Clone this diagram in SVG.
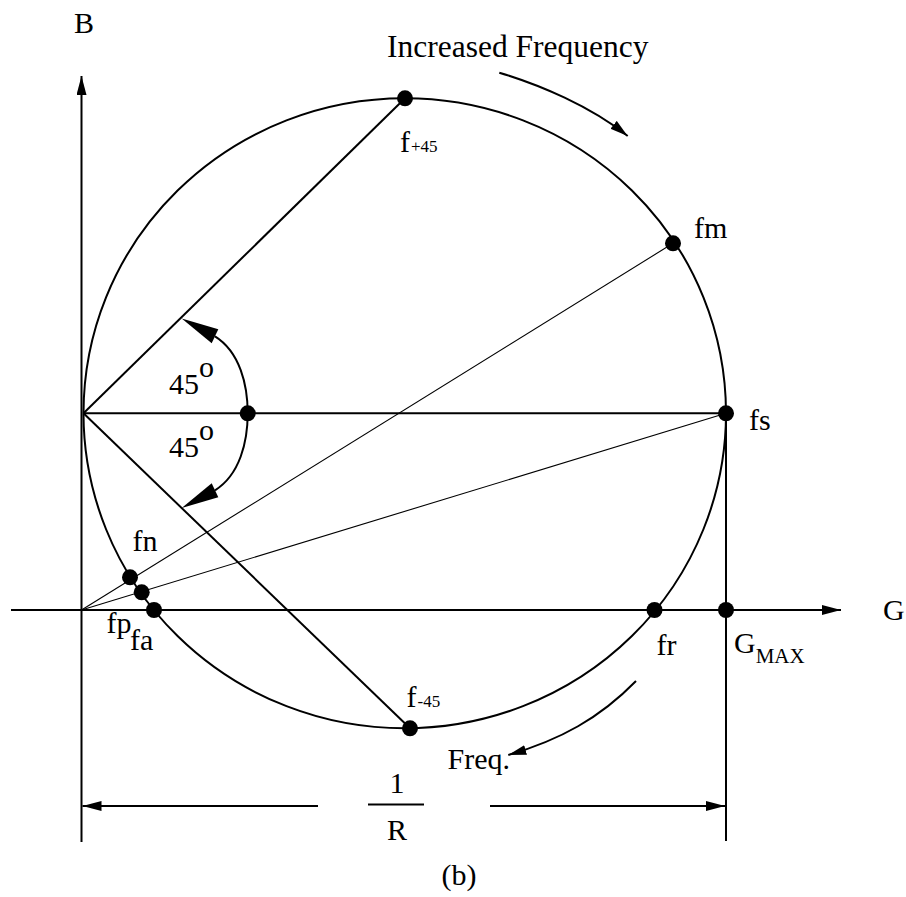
<svg xmlns="http://www.w3.org/2000/svg" width="906" height="897" viewBox="0 0 906 897">
<style>
.t{font-family:'Liberation Serif','DejaVu Serif',serif;font-size:30px;fill:#000}
.big{font-size:31.5px}
.sub{font-size:17px}
.thick{stroke:#000;stroke-width:2;fill:none}
.thin{stroke:#000;stroke-width:1.1;fill:none}
.dot{fill:#000}
.ah{fill:#000}
</style>
<defs>
<marker id="arr" markerUnits="userSpaceOnUse" markerWidth="20" markerHeight="12" refX="19" refY="5" orient="auto">
<path d="M0,0 L19,5 L0,10 Z" fill="#000"/>
</marker>
<marker id="arrs" markerUnits="userSpaceOnUse" markerWidth="20" markerHeight="12" refX="18" refY="5" orient="auto">
<path d="M0,0 L18,5 L0,10 Z" fill="#000"/>
</marker>
</defs>
<rect width="906" height="897" fill="#fff"/>

<g id="axes">
<line class="thick" x1="81.5" y1="842" x2="81.5" y2="76" marker-end="url(#arr)"/>
<line class="thick" x1="11" y1="610" x2="841" y2="610" marker-end="url(#arr)"/>
<text class="t" font-family="Liberation Serif, serif" x="74" y="33">B</text>
<text class="t" font-family="Liberation Serif, serif" x="883" y="620">G</text>
</g>

<g id="circle">
<ellipse class="thick" cx="404.75" cy="413.3" rx="321.25" ry="315"/>
</g>

<g id="connectors">
<line class="thick" x1="83.5" y1="413.3" x2="726" y2="413.3"/>
<line class="thick" x1="83.5" y1="413.3" x2="405" y2="98.3"/>
<line class="thick" x1="83.5" y1="413.3" x2="410" y2="728.3"/>
<line class="thin" x1="81.5" y1="610" x2="673" y2="243.3"/>
<line class="thin" x1="81.5" y1="610" x2="726" y2="413.3"/>
<line class="thick" x1="726" y1="413.3" x2="726" y2="841"/>
<path class="thick" d="M247.7 413.3 C247.7 385 240 352 215 336.3"/>
<polygon class="ah" points="181.7,318.5 218.3,329.3 211.7,343.3"/>
<path class="thick" d="M247.7 413.3 C247.7 441.6 240 474.6 215 490.3"/>
<polygon class="ah" points="181.7,508.1 218.3,497.3 211.7,483.3"/>
<path class="thick" d="M499.3 72.7 C540 85 590 106 627.7 136" marker-end="url(#arrs)"/>
<path class="thick" d="M636 681 C600 718 560 740 508.3 755" marker-end="url(#arrs)"/>
<line class="thick" x1="318" y1="806" x2="82.5" y2="806" marker-end="url(#arr)"/>
<line class="thick" x1="490" y1="806" x2="725" y2="806" marker-end="url(#arr)"/>
<line class="thick" x1="368" y1="804.5" x2="424" y2="804.5"/>
</g>

<g id="f_plus45"><circle class="dot" cx="405" cy="98.3" r="8"/><text class="t" font-family="Liberation Serif, serif" x="400" y="152">f<tspan class="sub" dx="1">+45</tspan></text></g>
<g id="f_minus45"><circle class="dot" cx="410" cy="728.3" r="8"/><text class="t" font-family="Liberation Serif, serif" x="406.5" y="707">f<tspan class="sub" dx="1">-45</tspan></text></g>
<g id="fm"><circle class="dot" cx="673" cy="243.3" r="8"/><text class="t" font-family="Liberation Serif, serif" x="694" y="238">fm</text></g>
<g id="fs"><circle class="dot" cx="726" cy="413.3" r="8"/><text class="t" font-family="Liberation Serif, serif" x="749" y="430">fs</text></g>
<g id="center"><circle class="dot" cx="247.7" cy="413.3" r="8"/></g>
<g id="fn"><circle class="dot" cx="130" cy="577.3" r="8"/><text class="t" font-family="Liberation Serif, serif" x="132.5" y="551">fn</text></g>
<g id="fp"><circle class="dot" cx="141.7" cy="592.3" r="8"/><text class="t" font-family="Liberation Serif, serif" x="106.5" y="633">fp</text></g>
<g id="fa"><circle class="dot" cx="154" cy="610" r="8"/><text class="t" font-family="Liberation Serif, serif" x="130" y="650">fa</text></g>
<g id="fr"><circle class="dot" cx="654.5" cy="610" r="8"/><text class="t" font-family="Liberation Serif, serif" x="656.5" y="655">fr</text></g>
<g id="gmax"><circle class="dot" cx="726" cy="610" r="8"/><text class="t" font-family="Liberation Serif, serif" x="734" y="653">G<tspan font-size="21" dy="10">MAX</tspan></text></g>

<g id="labels">
<text class="t big" font-family="Liberation Serif, serif" x="387" y="57">Increased Frequency</text>
<text class="t" font-family="Liberation Serif, serif" x="169" y="394">45<tspan dy="-17">o</tspan></text>
<text class="t" font-family="Liberation Serif, serif" x="169" y="457">45<tspan dy="-17">o</tspan></text>
<text class="t" font-family="Liberation Serif, serif" x="447.5" y="769">Freq.</text>
<text class="t" font-family="Liberation Serif, serif" x="397" y="793" text-anchor="middle">1</text>
<text class="t" font-family="Liberation Serif, serif" x="397" y="840" text-anchor="middle">R</text>
<text class="t" font-family="Liberation Serif, serif" x="459" y="885" text-anchor="middle">(b)</text>
</g>
</svg>
